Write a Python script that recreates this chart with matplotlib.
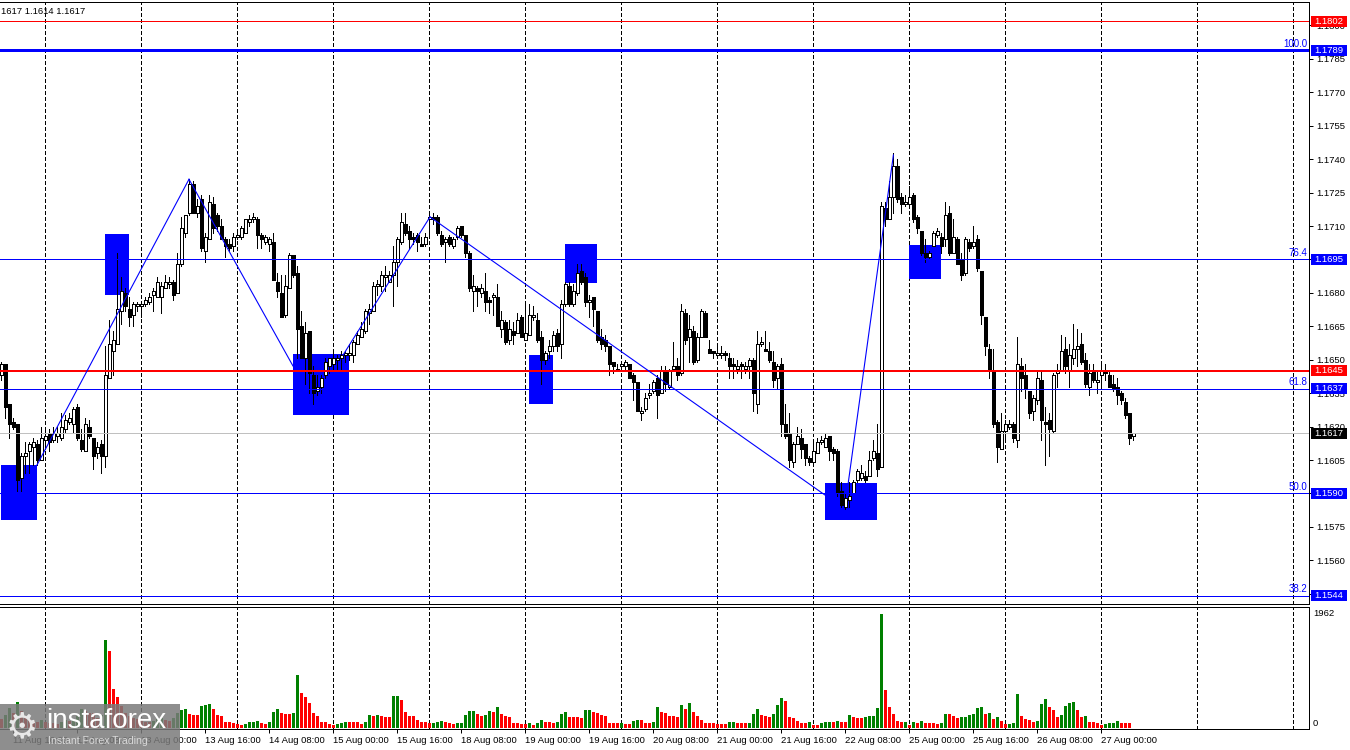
import matplotlib
matplotlib.use('Agg')
import matplotlib.pyplot as plt
import matplotlib.transforms as mtransforms
from matplotlib.patches import Rectangle

plt.rcParams['font.family'] = ['Liberation Sans', 'DejaVu Sans']
plt.rcParams['lines.scale_dashes'] = False

# H1 bars, index 0 = 11 Aug 00:00 (weekends skipped, 24 bars a day)
first_bar = 13

opens = [
    1.1643, 1.1648, 1.1630, 1.1622, 1.1621, 1.1597, 1.1607, 1.1609, 1.1611, 1.1612, 1.1605, 1.1614,
    1.1617, 1.1614, 1.1616, 1.1615, 1.1619, 1.1622, 1.1621, 1.1629, 1.1614, 1.1609, 1.1620, 1.1615,
    1.1608, 1.1612, 1.1607, 1.1642, 1.1654, 1.1657, 1.1672, 1.1680, 1.1673, 1.1670, 1.1674, 1.1674,
    1.1675, 1.1676, 1.1679, 1.1678, 1.1678, 1.1682, 1.1684, 1.1685, 1.1680, 1.1693, 1.1707, 1.1716,
    1.1729, 1.1716, 1.1722, 1.1699, 1.1704, 1.1720, 1.1715, 1.1710, 1.1704, 1.1702, 1.1701, 1.1705,
    1.1705, 1.1707, 1.1712, 1.1713, 1.1713, 1.1706, 1.1703, 1.1702, 1.1703, 1.1685, 1.1680, 1.1670,
    1.1682, 1.1697, 1.1689, 1.1665, 1.1651, 1.1663, 1.1643, 1.1636, 1.1638, 1.1643, 1.1647, 1.1648,
    1.1650, 1.1651, 1.1652, 1.1652, 1.1652, 1.1657, 1.1660, 1.1663, 1.1671, 1.1672, 1.1683, 1.1683,
    1.1687, 1.1685, 1.1688, 1.1694, 1.1703, 1.1711, 1.1708, 1.1705, 1.1706, 1.1702, 1.1702, 1.1713,
    1.1714, 1.1714, 1.1706, 1.1703, 1.1705, 1.1701, 1.1705, 1.1710, 1.1706, 1.1698, 1.1681, 1.1682,
    1.1680, 1.1681, 1.1677, 1.1678, 1.1678, 1.1664, 1.1667, 1.1659, 1.1663, 1.1662, 1.1669, 1.1659,
    1.1661, 1.1669, 1.1668, 1.1660, 1.1650, 1.1654, 1.1656, 1.1662, 1.1657, 1.1675, 1.1683, 1.1675,
    1.1680, 1.1690, 1.1687, 1.1676, 1.1678, 1.1672, 1.1660, 1.1659, 1.1656, 1.1649, 1.1645, 1.1647,
    1.1647, 1.1648, 1.1643, 1.1640, 1.1626, 1.1628, 1.1634, 1.1636, 1.1642, 1.1635, 1.1645, 1.1638,
    1.1646, 1.1647, 1.1644, 1.1671, 1.1660, 1.1663, 1.1650, 1.1660, 1.1671, 1.1655, 1.1654, 1.1652,
    1.1652, 1.1653, 1.1651, 1.1648, 1.1646, 1.1648, 1.1646, 1.1647, 1.1650, 1.1630, 1.1657, 1.1655,
    1.1654, 1.1649, 1.1642, 1.1648, 1.1621, 1.1617, 1.1604, 1.1612, 1.1615, 1.1612, 1.1606, 1.1604,
    1.1608, 1.1613, 1.1611, 1.1616, 1.1610, 1.1609, 1.1591, 1.1584, 1.1587, 1.1590, 1.1596, 1.1597,
    1.1598, 1.1598, 1.1606, 1.1608, 1.1602, 1.1718, 1.1713, 1.1723, 1.1737, 1.1723, 1.1720, 1.1720,
    1.1724, 1.1714, 1.1708, 1.1698, 1.1696, 1.1701, 1.1706, 1.1705, 1.1704, 1.1716, 1.1698, 1.1704,
    1.1695, 1.1689, 1.1703, 1.1701, 1.1704, 1.1690, 1.1669, 1.1655, 1.1645, 1.1622, 1.1610, 1.1618,
    1.1620, 1.1621, 1.1614, 1.1647, 1.1643, 1.1636, 1.1627, 1.1632, 1.1641, 1.1622, 1.1623, 1.1618,
    1.1644, 1.1645, 1.1655, 1.1645, 1.1651, 1.1655, 1.1657, 1.1650, 1.1638, 1.1645, 1.1640, 1.1643,
    1.1645, 1.1643, 1.1639, 1.1638, 1.1635, 1.1631, 1.1626, 1.1616,
]
highs = [
    1.1649, 1.1648, 1.1630, 1.1624, 1.1621, 1.1608, 1.1613, 1.1613, 1.1615, 1.1614, 1.1620, 1.1620,
    1.1619, 1.1620, 1.1620, 1.1626, 1.1625, 1.1626, 1.1629, 1.1630, 1.1619, 1.1624, 1.1623, 1.1615,
    1.1613, 1.1614, 1.1656, 1.1668, 1.1663, 1.1698, 1.1687, 1.1682, 1.1678, 1.1676, 1.1676, 1.1676,
    1.1678, 1.1680, 1.1682, 1.1687, 1.1685, 1.1688, 1.1687, 1.1686, 1.1698, 1.1714, 1.1715, 1.1731,
    1.1730, 1.1722, 1.1724, 1.1707, 1.1724, 1.1723, 1.1716, 1.1713, 1.1705, 1.1704, 1.1707, 1.1708,
    1.1710, 1.1713, 1.1715, 1.1716, 1.1714, 1.1707, 1.1706, 1.1705, 1.1707, 1.1689, 1.1688, 1.1688,
    1.1698, 1.1697, 1.1692, 1.1672, 1.1667, 1.1663, 1.1647, 1.1643, 1.1643, 1.1651, 1.1651, 1.1653,
    1.1652, 1.1654, 1.1654, 1.1657, 1.1659, 1.1663, 1.1667, 1.1673, 1.1675, 1.1685, 1.1686, 1.1690,
    1.1692, 1.1690, 1.1701, 1.1705, 1.1716, 1.1716, 1.1710, 1.1707, 1.1707, 1.1705, 1.1707, 1.1715,
    1.1716, 1.1715, 1.1708, 1.1705, 1.1706, 1.1705, 1.1710, 1.1710, 1.1706, 1.1699, 1.1688, 1.1683,
    1.1684, 1.1689, 1.1678, 1.1680, 1.1684, 1.1672, 1.1668, 1.1668, 1.1667, 1.1671, 1.1670, 1.1675,
    1.1675, 1.1674, 1.1671, 1.1663, 1.1654, 1.1659, 1.1663, 1.1664, 1.1677, 1.1685, 1.1685, 1.1684,
    1.1693, 1.1693, 1.1689, 1.1679, 1.1678, 1.1672, 1.1664, 1.1661, 1.1656, 1.1649, 1.1648, 1.1649,
    1.1650, 1.1648, 1.1644, 1.1640, 1.1629, 1.1635, 1.1639, 1.1641, 1.1643, 1.1647, 1.1647, 1.1646,
    1.1658, 1.1651, 1.1675, 1.1673, 1.1670, 1.1665, 1.1662, 1.1673, 1.1672, 1.1659, 1.1654, 1.1656,
    1.1656, 1.1654, 1.1653, 1.1651, 1.1650, 1.1649, 1.1649, 1.1651, 1.1651, 1.1663, 1.1660, 1.1663,
    1.1658, 1.1654, 1.1648, 1.1651, 1.1630, 1.1626, 1.1613, 1.1620, 1.1619, 1.1612, 1.1607, 1.1613,
    1.1615, 1.1616, 1.1617, 1.1616, 1.1611, 1.1610, 1.1595, 1.1590, 1.1595, 1.1596, 1.1601, 1.1603,
    1.1600, 1.1609, 1.1614, 1.1621, 1.1721, 1.1721, 1.1730, 1.1743, 1.1740, 1.1725, 1.1724, 1.1728,
    1.1725, 1.1715, 1.1708, 1.1704, 1.1699, 1.1708, 1.1709, 1.1707, 1.1721, 1.1719, 1.1713, 1.1705,
    1.1698, 1.1705, 1.1704, 1.1710, 1.1706, 1.1690, 1.1669, 1.1657, 1.1655, 1.1623, 1.1626, 1.1623,
    1.1623, 1.1622, 1.1660, 1.1651, 1.1648, 1.1636, 1.1634, 1.1645, 1.1645, 1.1629, 1.1626, 1.1644,
    1.1648, 1.1661, 1.1660, 1.1657, 1.1666, 1.1664, 1.1662, 1.1653, 1.1648, 1.1648, 1.1645, 1.1648,
    1.1648, 1.1645, 1.1643, 1.1642, 1.1636, 1.1633, 1.1626, 1.1617,
]
lows = [
    1.1641, 1.1624, 1.1615, 1.1619, 1.1591, 1.1591, 1.1599, 1.1599, 1.1603, 1.1603, 1.1605, 1.1610,
    1.1609, 1.1613, 1.1613, 1.1614, 1.1617, 1.1621, 1.1617, 1.1614, 1.1609, 1.1609, 1.1615, 1.1601,
    1.1606, 1.1599, 1.1602, 1.1642, 1.1643, 1.1657, 1.1666, 1.1672, 1.1665, 1.1665, 1.1672, 1.1669,
    1.1674, 1.1675, 1.1672, 1.1678, 1.1671, 1.1682, 1.1682, 1.1677, 1.1680, 1.1692, 1.1705, 1.1715,
    1.1716, 1.1714, 1.1699, 1.1694, 1.1704, 1.1707, 1.1708, 1.1704, 1.1696, 1.1699, 1.1699, 1.1704,
    1.1704, 1.1707, 1.1710, 1.1712, 1.1700, 1.1700, 1.1702, 1.1699, 1.1686, 1.1678, 1.1669, 1.1669,
    1.1682, 1.1687, 1.1651, 1.1651, 1.1639, 1.1635, 1.1630, 1.1634, 1.1635, 1.1642, 1.1644, 1.1646,
    1.1646, 1.1646, 1.1649, 1.1650, 1.1649, 1.1657, 1.1660, 1.1662, 1.1666, 1.1672, 1.1679, 1.1681,
    1.1681, 1.1685, 1.1674, 1.1683, 1.1702, 1.1706, 1.1700, 1.1702, 1.1699, 1.1701, 1.1701, 1.1705,
    1.1711, 1.1706, 1.1701, 1.1694, 1.1701, 1.1700, 1.1704, 1.1705, 1.1696, 1.1681, 1.1672, 1.1674,
    1.1678, 1.1672, 1.1671, 1.1670, 1.1665, 1.1660, 1.1657, 1.1657, 1.1657, 1.1662, 1.1660, 1.1659,
    1.1661, 1.1668, 1.1658, 1.1639, 1.1648, 1.1651, 1.1654, 1.1654, 1.1651, 1.1674, 1.1674, 1.1674,
    1.1679, 1.1684, 1.1674, 1.1669, 1.1665, 1.1658, 1.1655, 1.1654, 1.1643, 1.1644, 1.1645, 1.1645,
    1.1645, 1.1642, 1.1632, 1.1627, 1.1623, 1.1627, 1.1633, 1.1635, 1.1624, 1.1635, 1.1636, 1.1637,
    1.1645, 1.1641, 1.1643, 1.1657, 1.1649, 1.1648, 1.1649, 1.1660, 1.1660, 1.1653, 1.1651, 1.1651,
    1.1651, 1.1650, 1.1642, 1.1642, 1.1644, 1.1642, 1.1644, 1.1642, 1.1627, 1.1626, 1.1656, 1.1654,
    1.1649, 1.1638, 1.1637, 1.1616, 1.1615, 1.1602, 1.1602, 1.1612, 1.1606, 1.1603, 1.1603, 1.1603,
    1.1608, 1.1612, 1.1611, 1.1605, 1.1605, 1.1589, 1.1584, 1.1583, 1.1584, 1.1590, 1.1595, 1.1596,
    1.1595, 1.1598, 1.1605, 1.1598, 1.1602, 1.1710, 1.1713, 1.1716, 1.1721, 1.1716, 1.1719, 1.1719,
    1.1712, 1.1707, 1.1697, 1.1694, 1.1695, 1.1701, 1.1705, 1.1698, 1.1701, 1.1697, 1.1698, 1.1693,
    1.1686, 1.1688, 1.1699, 1.1700, 1.1690, 1.1666, 1.1652, 1.1642, 1.1620, 1.1604, 1.1610, 1.1615,
    1.1619, 1.1613, 1.1611, 1.1636, 1.1633, 1.1624, 1.1623, 1.1630, 1.1614, 1.1603, 1.1607, 1.1617,
    1.1638, 1.1645, 1.1644, 1.1638, 1.1648, 1.1647, 1.1648, 1.1638, 1.1634, 1.1640, 1.1635, 1.1638,
    1.1641, 1.1638, 1.1636, 1.1630, 1.1630, 1.1624, 1.1612, 1.1614,
]
closes = [
    1.1648, 1.1629, 1.1621, 1.1620, 1.1596, 1.1607, 1.1608, 1.1612, 1.1613, 1.1605, 1.1615, 1.1616,
    1.1613, 1.1617, 1.1617, 1.1620, 1.1623, 1.1624, 1.1628, 1.1615, 1.1610, 1.1621, 1.1616, 1.1607,
    1.1611, 1.1607, 1.1643, 1.1657, 1.1659, 1.1673, 1.1681, 1.1674, 1.1669, 1.1675, 1.1675, 1.1675,
    1.1677, 1.1678, 1.1681, 1.1685, 1.1683, 1.1685, 1.1685, 1.1679, 1.1693, 1.1709, 1.1715, 1.1729,
    1.1716, 1.1719, 1.1700, 1.1705, 1.1721, 1.1709, 1.1710, 1.1704, 1.1701, 1.1700, 1.1705, 1.1706,
    1.1709, 1.1713, 1.1713, 1.1714, 1.1706, 1.1704, 1.1705, 1.1704, 1.1686, 1.1681, 1.1669, 1.1683,
    1.1697, 1.1688, 1.1664, 1.1651, 1.1662, 1.1644, 1.1635, 1.1638, 1.1642, 1.1649, 1.1651, 1.1651,
    1.1651, 1.1652, 1.1653, 1.1653, 1.1658, 1.1661, 1.1664, 1.1672, 1.1673, 1.1683, 1.1684, 1.1688,
    1.1688, 1.1688, 1.1694, 1.1704, 1.1712, 1.1707, 1.1704, 1.1704, 1.1703, 1.1701, 1.1705, 1.1714,
    1.1713, 1.1707, 1.1702, 1.1704, 1.1702, 1.1704, 1.1709, 1.1706, 1.1698, 1.1682, 1.1683, 1.1681,
    1.1682, 1.1676, 1.1676, 1.1679, 1.1665, 1.1668, 1.1658, 1.1664, 1.1661, 1.1668, 1.1660, 1.1662,
    1.1670, 1.1670, 1.1659, 1.1650, 1.1653, 1.1656, 1.1661, 1.1656, 1.1675, 1.1684, 1.1675, 1.1681,
    1.1689, 1.1685, 1.1676, 1.1677, 1.1673, 1.1659, 1.1657, 1.1656, 1.1648, 1.1647, 1.1646, 1.1648,
    1.1649, 1.1642, 1.1640, 1.1627, 1.1627, 1.1633, 1.1635, 1.1640, 1.1634, 1.1645, 1.1639, 1.1645,
    1.1647, 1.1643, 1.1672, 1.1659, 1.1664, 1.1649, 1.1660, 1.1672, 1.1660, 1.1653, 1.1653, 1.1653,
    1.1653, 1.1652, 1.1647, 1.1647, 1.1647, 1.1647, 1.1647, 1.1650, 1.1635, 1.1657, 1.1658, 1.1654,
    1.1650, 1.1641, 1.1647, 1.1621, 1.1616, 1.1605, 1.1612, 1.1616, 1.1610, 1.1606, 1.1604, 1.1609,
    1.1613, 1.1614, 1.1615, 1.1609, 1.1608, 1.1590, 1.1585, 1.1588, 1.1589, 1.1595, 1.1600, 1.1599,
    1.1596, 1.1605, 1.1609, 1.1601, 1.1719, 1.1713, 1.1723, 1.1737, 1.1722, 1.1720, 1.1721, 1.1723,
    1.1713, 1.1709, 1.1698, 1.1696, 1.1698, 1.1707, 1.1708, 1.1701, 1.1715, 1.1698, 1.1705, 1.1693,
    1.1688, 1.1704, 1.1700, 1.1703, 1.1691, 1.1670, 1.1656, 1.1645, 1.1621, 1.1611, 1.1618, 1.1621,
    1.1621, 1.1615, 1.1648, 1.1642, 1.1637, 1.1626, 1.1633, 1.1642, 1.1623, 1.1621, 1.1619, 1.1643,
    1.1645, 1.1654, 1.1647, 1.1652, 1.1655, 1.1656, 1.1649, 1.1639, 1.1644, 1.1641, 1.1641, 1.1645,
    1.1644, 1.1638, 1.1637, 1.1634, 1.1632, 1.1625, 1.1615, 1.1617,
]
volumes = [
    150, 230, 350, 260, 440, 300, 200, 150, 120, 110, 130, 100,
    90, 80, 70, 110, 130, 120, 140, 200, 330, 300, 260, 250,
    180, 220, 1518, 1329, 676, 539, 372, 258, 200, 170, 150, 130,
    110, 100, 120, 160, 170, 140, 120, 180, 258, 315, 332, 241,
    229, 228, 384, 401, 418, 332, 229, 201, 103, 97, 86, 74,
    57, 74, 109, 112, 115, 86, 74, 97, 281, 332, 258, 246,
    240, 258, 917, 607, 539, 430, 258, 212, 103, 100, 74, 46,
    63, 86, 109, 97, 96, 95, 74, 109, 229, 201, 229, 201,
    195, 190, 544, 556, 487, 281, 212, 201, 132, 97, 96, 90,
    92, 103, 115, 109, 90, 74, 80, 85, 218, 287, 290, 246,
    206, 218, 287, 275, 361, 235, 206, 189, 80, 78, 77, 69,
    80, 57, 80, 143, 97, 96, 80, 97, 235, 269, 189, 188,
    187, 166, 304, 305, 269, 252, 218, 201, 92, 91, 90, 92,
    69, 68, 115, 132, 131, 86, 85, 97, 355, 269, 252, 201,
    200, 189, 390, 321, 424, 269, 201, 132, 80, 79, 78, 69,
    63, 62, 97, 98, 86, 85, 80, 81, 235, 321, 218, 201,
    189, 235, 390, 516, 458, 189, 166, 120, 86, 85, 97, 57,
    46, 92, 98, 99, 97, 115, 97, 96, 223, 189, 178, 166,
    189, 201, 210, 338, 1962, 650, 361, 235, 115, 109, 112, 57,
    109, 92, 126, 92, 91, 90, 69, 92, 246, 245, 212, 178,
    195, 196, 229, 246, 350, 367, 246, 264, 160, 195, 126, 74,
    75, 92, 590, 212, 160, 143, 109, 126, 418, 504, 367, 315,
    195, 229, 384, 435, 453, 315, 195, 212, 109, 108, 92, 57,
    70, 80, 92, 126, 92, 91, 90, 6,
]

# one time label every 16 bars, starting at bar 0
time_labels = ['11 Aug 00:00', '11 Aug 16:00', '12 Aug 08:00', '13 Aug 00:00', '13 Aug 16:00',
               '14 Aug 08:00', '15 Aug 00:00', '15 Aug 16:00', '18 Aug 08:00', '19 Aug 00:00',
               '19 Aug 16:00', '20 Aug 08:00', '21 Aug 00:00', '21 Aug 16:00', '22 Aug 08:00',
               '25 Aug 00:00', '25 Aug 16:00', '26 Aug 08:00', '27 Aug 00:00']
price_ticks = [1.1545, 1.1560, 1.1575, 1.1590, 1.1605, 1.1620, 1.1635, 1.1650, 1.1665,
               1.1680, 1.1695, 1.1710, 1.1725, 1.1740, 1.1755, 1.1770, 1.1785, 1.1800]

# horizontal levels
level_prices = [1.1802, 1.1789, 1.1695, 1.1645, 1.1637, 1.1617, 1.1590, 1.1544]
level_colors = ['#ff0000', '#0000ff', '#0000ff', '#ff0000', '#0000ff', '#c0c0c0', '#0000ff', '#0000ff']
level_widths = [0.72, 2.16, 0.72, 1.44, 0.72, 0.72, 0.72, 0.72]
box_colors = ['#ff0000', '#0000ff', '#0000ff', '#ff0000', '#0000ff', '#000000', '#0000ff', '#0000ff']
fib_prices = [1.1789, 1.1695, 1.1637, 1.1590, 1.1544]
fib_names = ['100.0', '76.4', '61.8', '50.0', '38.2']

# blue zones (bar index / price)
zone_left = [13, 39, 86, 145, 154, 219, 240]
zone_right = [22, 45, 100, 151, 162, 232, 248]
zone_top = [1.16028, 1.17064, 1.16526, 1.16521, 1.17019, 1.15947, 1.17015]
zone_bottom = [1.15781, 1.16791, 1.16252, 1.16302, 1.16845, 1.15781, 1.16862]

# trend lines
trend_x0 = [22, 60, 98.5, 120.25, 224.8]
trend_y0 = [1.16028, 1.17310, 1.16521, 1.17141, 1.15946]
trend_x1 = [60, 86, 120.25, 219, 236.1]
trend_y1 = [1.17310, 1.16472, 1.17141, 1.15893, 1.17419]

W, H = 1350, 750
fig = plt.figure(figsize=(W / 100, H / 100), dpi=100)


def px_box(x0, y0, x1, y1):
    return [x0 / W, 1 - y1 / H, (x1 - x0) / W, (y1 - y0) / H]


ax = fig.add_axes(px_box(0, 2, 1309, 604))
axv = fig.add_axes(px_box(0, 607, 1309, 729), sharex=ax)

ymin, ymax = 1.154041, 1.181054
ax.set_xlim(12.75, 340)
ax.set_ylim(ymin, ymax)
axv.set_ylim(-17, 2082)
ppx = (ymax - ymin) / 602.0  # price per pixel

for a in (ax, axv):
    a.spines['left'].set_visible(False)
    for s in ('top', 'right', 'bottom'):
        a.spines[s].set_linewidth(0.72)
        a.spines[s].set_color('black')
    a.set_facecolor('white')
    for d in range(24, 340, 24):
        a.axvline(d, color='black', lw=0.72, dashes=(2.2, 1.5), zorder=0.5, antialiased=False)

idx = list(range(first_bar, first_bar + len(opens)))

# zones behind candles
for x0, x1, t, b in zip(zone_left, zone_right, zone_top, zone_bottom):
    ax.add_patch(Rectangle((x0, b), x1 - x0, t - b, facecolor='#0000ff', edgecolor='none',
                           zorder=1, antialiased=False))

# candles
body_bottom = [min(o, c) for o, c in zip(opens, closes)]
body_height = [max(abs(c - o), 0.00004) for o, c in zip(opens, closes)]
body_color = ['white' if c >= o else 'black' for o, c in zip(opens, closes)]
ax.vlines(idx, lows, highs, color='black', lw=0.72, zorder=2, antialiased=False)
ax.bar(idx, body_height, bottom=body_bottom, width=0.75, color=body_color,
       edgecolor='black', linewidth=0.72, zorder=2.2, antialiased=False)

# levels and trend lines
for p, col, lw in zip(level_prices, level_colors, level_widths):
    ax.axhline(p, color=col, lw=lw, zorder=3, antialiased=False)
for x0, y0, x1, y1 in zip(trend_x0, trend_y0, trend_x1, trend_y1):
    ax.plot([x0, x1], [y0, y1], color='#0000ff', lw=0.8, zorder=3)

# volumes: green when rising, red otherwise
vol_colors = ['#ff0000']
for k in range(1, len(volumes)):
    vol_colors.append('#008000' if volumes[k] > volumes[k - 1] else '#ff0000')
axv.bar(idx, volumes, width=0.75, color=vol_colors, zorder=2, antialiased=False)

# axes ticks
ax.yaxis.tick_right()
ax.set_yticks(price_ticks)
ax.set_yticklabels(['%.4f' % p for p in price_ticks])
ax.tick_params(axis='y', length=3, width=0.72, pad=2.5, labelsize=6.8, direction='out')
ax.tick_params(axis='x', bottom=False, labelbottom=False)

tick_pos = [16 * k for k in range(len(time_labels))]
axv.set_xticks(tick_pos[1:])
axv.set_xticklabels(time_labels[1:], ha='left')
axv.tick_params(axis='x', length=3, width=0.72, pad=2, labelsize=6.8)
axv.set_yticks([])

# price boxes on the right scale
tr = mtransforms.blended_transform_factory(fig.transFigure, ax.transData)
for p, bc in zip(level_prices, box_colors):
    ax.add_patch(Rectangle((1311 / W, p - 5.5 * ppx), 36 / W, 11 * ppx, transform=tr,
                           facecolor=bc, edgecolor='none', clip_on=False, zorder=6))
    ax.text(1314 / W, p, '%.4f' % p, transform=tr, color='white', fontsize=6.8,
            ha='left', va='center', clip_on=False, zorder=7)
for p, name in zip(fib_prices, fib_names):
    ax.text(1307 / W, p + 1.5 * ppx, name, transform=tr, color='#0000ff', fontsize=7,
            ha='right', va='bottom', zorder=7)

trv = mtransforms.blended_transform_factory(fig.transFigure, axv.transData)
axv.text(1313 / W, 1962, '1962', transform=trv, fontsize=6.8, ha='left', va='center', clip_on=False)
axv.text(1313 / W, 0, '0', transform=trv, fontsize=6.8, ha='left', va='bottom', clip_on=False)

# header
fig.text(1 / W, 1 - 11 / H, '1617 1.1614 1.1617', fontsize=6.8, ha='left', va='center')

# watermark (sits over the first time labels, as in the screenshot)
fig.add_artist(Rectangle((0, 0), 180 / W, 46 / H, transform=fig.transFigure,
                         facecolor='#7a7a7a', edgecolor='none', alpha=0.85, zorder=10))
fig.text(22 / W, 1 - 727 / H, '\u2699', fontsize=26, color='#e8e8e8', ha='center', va='center',
         family='DejaVu Sans', zorder=11)
fig.text(46 / W, 1 - 728 / H, 'instaforex', fontsize=20, color='white', ha='left',
         va='baseline', zorder=11)
fig.text(48 / W, 1 - 744 / H, 'Instant Forex Trading', fontsize=7.6, color='#d8d8d8',
         ha='left', va='baseline', zorder=11)

fig.savefig('out.png', dpi=100)
